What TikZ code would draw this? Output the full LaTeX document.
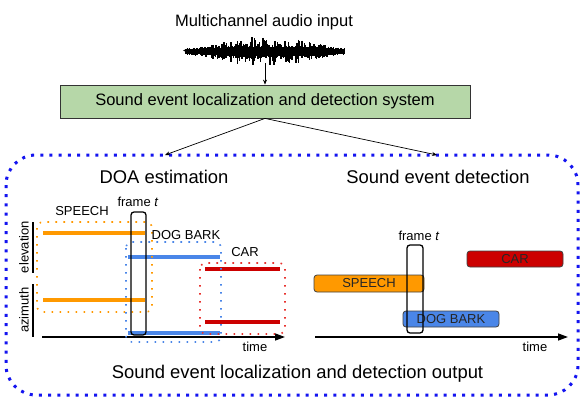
\documentclass[tikz,border=0pt]{standalone}
\usepackage{fontspec}
\setmainfont{Liberation Sans}
\usetikzlibrary{arrows.meta}
\definecolor{cOrange}{HTML}{FF9900}
\definecolor{cBlue}{HTML}{4A86E8}
\definecolor{cRed}{HTML}{CC0000}
\definecolor{cRedDot}{HTML}{E8332F}
\definecolor{cGreen}{HTML}{B6D7A8}
\definecolor{cFrame}{HTML}{1414F0}
\begin{document}
\begin{tikzpicture}[x=1pt,y=-1pt,
  lbl/.style={font=\fontsize{13}{15}\selectfont, inner sep=0pt, anchor=base},
  head/.style={font=\fontsize{18.4}{22}\selectfont, inner sep=0pt, anchor=base},
  titletxt/.style={font=\fontsize{16.5}{20}\selectfont, inner sep=0pt, anchor=base},
  sysbox/.style={draw=black!80, line width=0.8pt, fill=cGreen, minimum width=410pt, minimum height=33pt, inner sep=0pt, font=\fontsize{16.5}{20}\selectfont},
  conn/.style={draw=black, line width=0.7pt, -{Stealth[length=5pt,width=4pt]}},
  wave/.style={draw=black, line width=1.4pt},
  outerframe/.style={draw=cFrame, line width=3pt, dash pattern=on 3pt off 6.2pt, rounded corners=30pt},
  dotbox/.style={line width=1.6pt, dash pattern=on 1.6pt off 6.4pt, rounded corners=6pt},
  track/.style={line width=3.6pt},
  framebox/.style={draw=black, line width=1.3pt, rounded corners=3pt},
  axisbar/.style={draw=black, line width=1.4pt},
  timeaxis/.style={draw=black, line width=1.4pt, -{Triangle[length=10pt,width=7pt]}},
  evbox/.style={draw=black!75, line width=0.8pt, rounded corners=3pt, inner sep=0pt, font=\fontsize{13}{15}\selectfont, text=black!85}
]
\useasboundingbox (0,0) rectangle (587,404);
\fill[white] (0,0) rectangle (587,404);

% title and waveform
\node[titletxt] (title) at (264,27) {Multichannel audio input};
\pgfmathsetseed{21}
\fill[black] (183,50.5) -- (188,48.5) -- (188,53) -- cycle;
\foreach \i in {0,...,130}{
  \pgfmathsetmacro\xx{186+1.22*\i}
  \pgfmathsetmacro\u{\i/130}
  \pgfmathsetmacro\env{1.5+9.5*(sin(180*\u))^2}
  \pgfmathsetmacro\core{1.5+2.2*min(1,4*\u)*min(1,6*(1-\u))}
  \pgfmathsetmacro\a{\core+\env*(rnd)^1.6}
  \pgfmathsetmacro\b{\core+1+\env*(rnd)^1.6}
  \draw[wave] (\xx,51-\a) -- (\xx,51+\b);
}
\coordinate (waveend) at (265,63);

% system box
\node[sysbox] (sys) at (265,101.5) {Sound event localization and detection system};
\draw[conn] (waveend) -- (sys.north);

% outer frame
\draw[outerframe] (6,155) rectangle (578,395);
\coordinate (doaTip) at (165,155);
\coordinate (sedTip) at (437,155);
\draw[conn] (sys.south) -- (doaTip);
\draw[conn] (sys.south) -- (sedTip);

\node[head] (doa) at (164,183) {DOA estimation};
\node[head] (sed) at (438,183) {Sound event detection};
\node[head] (out) at (297.5,378) {Sound event localization and detection output};

% ---------- left plot ----------
\draw[axisbar] (33,222) -- (33,273);
\draw[axisbar] (33,284) -- (33,337);
\node[lbl, rotate=90, anchor=center] (elev) at (24,247) {elevation};
\node[lbl, rotate=90, anchor=center] (azim) at (24,310) {azimuth};

\coordinate (tl0) at (42,337);
\coordinate (tl1) at (285,337);
\draw[timeaxis] (tl0) -- (tl1);
\node[lbl] (timeL) at (255,351) {time};

% tracks
\draw[track, cOrange] (43,233) -- (145,233);
\draw[track, cOrange] (43,300) -- (145,300);
\draw[track, cBlue] (128,257) -- (220,257);
\draw[track, cBlue] (128,333) -- (220,333);
\draw[track, cRed] (205,269) -- (280,269);
\draw[track, cRed] (205,322) -- (280,322);

% dotted groups
\draw[dotbox, cOrange] (37,222) rectangle (152,312);
\draw[dotbox, cBlue] (126,242) rectangle (221,342);
\draw[dotbox, cRedDot] (200,263) rectangle (285,334);

\draw[framebox] (131,212) rectangle (146,335);

\node[lbl] (speechL) at (82,215) {SPEECH};
\node[lbl] (frameL) at (138,206) {frame \textit{t}};
\node[lbl] (dogL) at (186,239) {DOG BARK};
\node[lbl] (carL) at (245,256) {CAR};

% ---------- right plot ----------
\coordinate (tr0) at (315,337);
\coordinate (tr1) at (568,337);
\draw[timeaxis] (tr0) -- (tr1);
\node[lbl] (timeR) at (535,351) {time};

\node[evbox, fill=cRed, minimum width=96pt, minimum height=16pt] (car) at (515,259) {CAR};
\node[evbox, fill=cOrange, minimum width=110pt, minimum height=17pt] (speech) at (369,283.5) {SPEECH};
\node[evbox, fill=cBlue, minimum width=96pt, minimum height=16pt] (dog) at (451,319) {DOG BARK};

\draw[framebox] (407,245) rectangle (423,333);
\node[lbl] (frameR) at (419,240) {frame \textit{t}};
\end{tikzpicture}
\end{document}
